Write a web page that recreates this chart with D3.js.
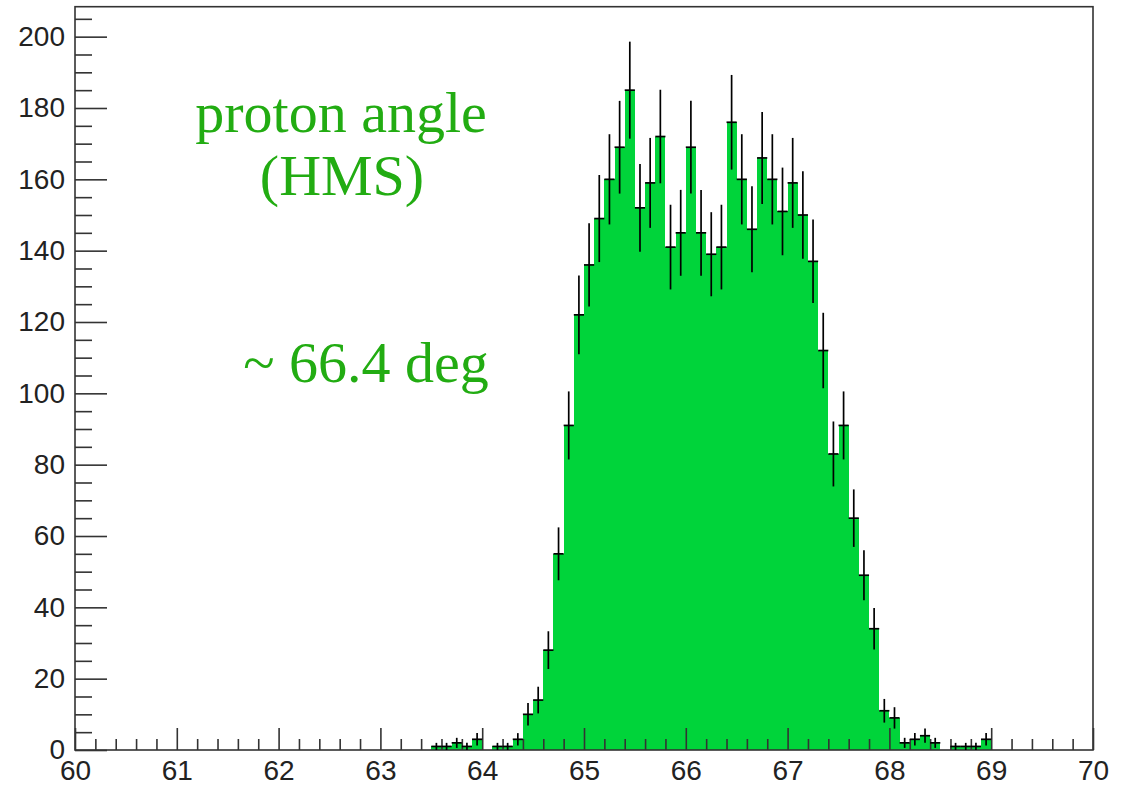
<!DOCTYPE html>
<html>
<head>
<meta charset="utf-8">
<script src="https://cdn.jsdelivr.net/npm/d3@7"></script>
<style>
  html, body { margin: 0; padding: 0; background: #fff; }
  svg { display: block; }
  .tick text { font-family: "Liberation Sans", Arial, Helvetica, sans-serif; font-size: 28px; fill: #222; }
  .note { font-family: "Liberation Serif", "Times New Roman", serif; font-size: 58px; fill: #22ac12; }
</style>
</head>
<body>
<svg id="chart"></svg>
<script>
/* ---------- size ---------- */
var WIDTH = 1143, HEIGHT = 787;

/* ---------- data: lower edge of each 0.1 deg bin and its count ---------- */
var binLow = [63.5, 63.6, 63.7, 63.8, 63.9, 64.0, 64.1, 64.2, 64.3, 64.4,
              64.5, 64.6, 64.7, 64.8, 64.9, 65.0, 65.1, 65.2, 65.3, 65.4,
              65.5, 65.6, 65.7, 65.8, 65.9, 66.0, 66.1, 66.2, 66.3, 66.4,
              66.5, 66.6, 66.7, 66.8, 66.9, 67.0, 67.1, 67.2, 67.3, 67.4,
              67.5, 67.6, 67.7, 67.8, 67.9, 68.0, 68.1, 68.2, 68.3, 68.4,
              68.5, 68.6, 68.7, 68.8, 68.9];
var counts = [1, 1, 2, 1, 3, 0, 1, 1, 3, 10,
              14, 28, 55, 91, 122, 136, 149, 160, 169, 185,
              152, 159, 172, 141, 145, 169, 145, 139, 141, 176,
              160, 146, 166, 160, 151, 159, 150, 137, 112, 83,
              91, 65, 49, 34, 11, 9, 2, 3, 4, 2,
              0, 1, 1, 1, 3];
var binWidth = 0.1;

/* ---------- ticks ---------- */
var xMajor = [60, 61, 62, 63, 64, 65, 66, 67, 68, 69, 70];
var xMinor = [60.2, 60.4, 60.6, 60.8, 61.2, 61.4, 61.6, 61.8, 62.2, 62.4, 62.6, 62.8,
              63.2, 63.4, 63.6, 63.8, 64.2, 64.4, 64.6, 64.8, 65.2, 65.4, 65.6, 65.8,
              66.2, 66.4, 66.6, 66.8, 67.2, 67.4, 67.6, 67.8, 68.2, 68.4, 68.6, 68.8,
              69.2, 69.4, 69.6, 69.8];
var yMajor = [0, 20, 40, 60, 80, 100, 120, 140, 160, 180, 200];
var yMinor = [5, 10, 15, 25, 30, 35, 45, 50, 55, 65, 70, 75, 85, 90, 95,
              105, 110, 115, 125, 130, 135, 145, 150, 155, 165, 170, 175,
              185, 190, 195, 205];

/* ---------- text ---------- */
var notes = [
  {text: "proton angle", x: 341, y: 132},
  {text: "(HMS)", x: 342, y: 195},
  {text: "~ 66.4 deg", x: 366, y: 382}
];

/* ---------- colours ---------- */
var fillColor = "#00d43a",
    errColor = "#000000",
    frameColor = "#333333";

/* ---------- svg ---------- */
var svg = d3.select("#chart")
    .attr("width", WIDTH)
    .attr("height", HEIGHT);

var x = d3.scaleLinear().domain([60, 70]).range([75, 1093]);
var y = d3.scaleLinear().domain([0, 208.4]).range([750, 6.7]);

var bins = binLow.map(function(lo, i) {
    return {lo: lo, hi: lo + binWidth, n: counts[i]};
});

// histogram fill
svg.append("g")
  .selectAll("rect")
    .data(bins.filter(function(d) { return d.n > 0; }))
  .enter().append("rect")
    .attr("x", function(d) { return x(d.lo); })
    .attr("width", function(d) { return x(d.hi) - x(d.lo); })
    .attr("y", function(d) { return y(d.n); })
    .attr("height", function(d) { return y(0) - y(d.n); })
    .attr("fill", fillColor)
    .attr("shape-rendering", "crispEdges");

// frame
svg.append("rect")
    .attr("x", x(60)).attr("y", y(208.4))
    .attr("width", x(70) - x(60)).attr("height", y(0) - y(208.4))
    .attr("fill", "none")
    .attr("stroke", frameColor)
    .attr("stroke-width", 1.6);

// axes
function styleAxis(g) {
    g.select(".domain").remove();
    g.selectAll(".tick line").attr("stroke", frameColor).attr("stroke-width", 1.6);
}

svg.append("g")
    .attr("transform", "translate(0," + y(0) + ")")
    .call(d3.axisBottom(x).tickValues(xMinor).tickSize(-11).tickFormat(""))
    .call(styleAxis);

svg.append("g")
    .attr("transform", "translate(0," + y(0) + ")")
    .call(d3.axisBottom(x).tickValues(xMajor).tickSize(-22).tickPadding(10).tickFormat(d3.format("d")))
    .call(styleAxis);

svg.append("g")
    .attr("transform", "translate(" + x(60) + ",0)")
    .call(d3.axisLeft(y).tickValues(yMinor).tickSize(-17).tickFormat(""))
    .call(styleAxis);

svg.append("g")
    .attr("transform", "translate(" + x(60) + ",0)")
    .call(d3.axisLeft(y).tickValues(yMajor).tickSize(-32).tickPadding(10).tickFormat(d3.format("d")))
    .call(styleAxis);

// error bars
var err = svg.append("g")
    .attr("stroke", errColor)
    .attr("stroke-width", 1.7)
  .selectAll("g")
    .data(bins.filter(function(d) { return d.n > 0; }))
  .enter().append("g");

err.append("line")
    .attr("x1", function(d) { return x(d.lo + binWidth / 2); })
    .attr("x2", function(d) { return x(d.lo + binWidth / 2); })
    .attr("y1", function(d) { return y(d.n - Math.sqrt(d.n)); })
    .attr("y2", function(d) { return y(d.n + Math.sqrt(d.n)); });

err.append("line")
    .attr("x1", function(d) { return x(d.lo); })
    .attr("x2", function(d) { return x(d.hi); })
    .attr("y1", function(d) { return y(d.n); })
    .attr("y2", function(d) { return y(d.n); });

// annotation
svg.selectAll(".note")
    .data(notes)
  .enter().append("text")
    .attr("class", "note")
    .attr("x", function(d) { return d.x; })
    .attr("y", function(d) { return d.y; })
    .attr("text-anchor", "middle")
    .text(function(d) { return d.text; });
</script>
</body>
</html>
